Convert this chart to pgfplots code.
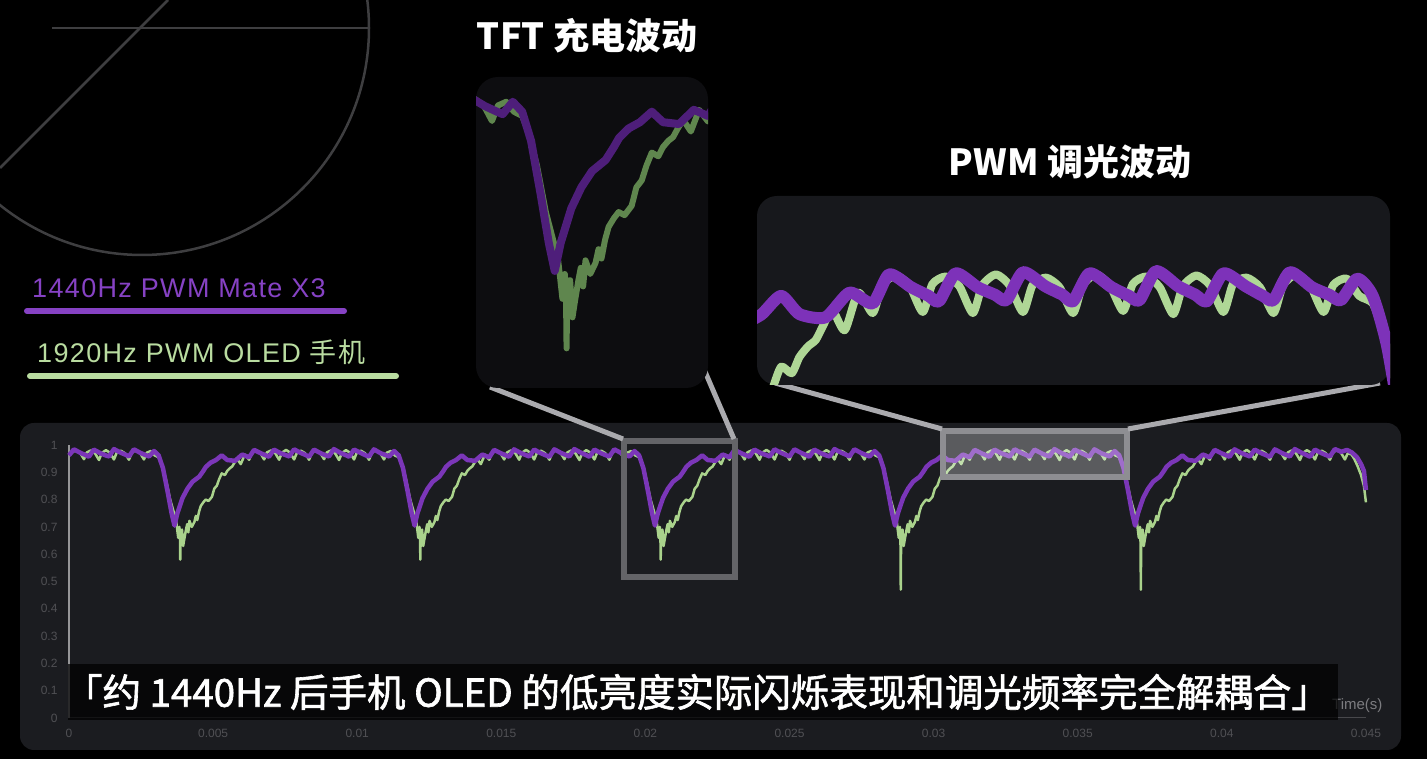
\documentclass[border=0pt]{standalone}
\usepackage{pgfplots}
\usepackage{pgfplotstable}
\pgfplotsset{compat=1.18}
\usepackage{fontspec}
\setmainfont{Liberation Sans}
\newfontfamily\cjk{Noto Sans CJK SC}
\newfontfamily\cjkm{Noto Sans CJK SC}[FakeBold=1.6]
\newfontfamily\legf{Liberation Sans}[LetterSpace=5]
\newfontfamily\legcjk{Noto Sans CJK SC}[LetterSpace=5]

\definecolor{panel}{RGB}{27,28,32}
\definecolor{purp}{RGB}{123,54,184}
\definecolor{grn}{RGB}{170,211,140}
\definecolor{tftpurp}{RGB}{78,30,122}
\definecolor{tftgrn}{RGB}{95,134,78}
\definecolor{tftbg}{RGB}{13,13,16}
\definecolor{pwmbg}{RGB}{23,24,28}
\definecolor{pwmpurp}{RGB}{125,50,185}
\definecolor{pwmgrn}{RGB}{175,215,150}
\definecolor{legP}{RGB}{134,66,196}
\definecolor{legG}{RGB}{185,220,160}
\definecolor{deco}{RGB}{62,62,64}
\definecolor{tickc}{RGB}{80,80,84}
\definecolor{axy}{RGB}{150,150,152}
\definecolor{axx}{RGB}{72,72,76}
\definecolor{conn}{RGB}{170,170,174}

\pgfplotstableread[row sep=\\]{
x y\\
0 0.962\\ 17 0.984\\ 40 0.971\\ 58 0.963\\ 69 0.957\\ 86 0.983\\ 109 0.970\\ 127 0.962\\
139 0.958\\ 156 0.985\\ 179 0.972\\ 197 0.964\\ 208 0.958\\ 225 0.984\\ 248 0.971\\ 266 0.963\\
278 0.958\\ 295 0.978\\ 311 0.962\\ 326 0.915\\ 342 0.830\\ 356 0.750\\ 366 0.705\\ 376 0.750\\
394 0.806\\ 411 0.840\\ 429 0.866\\ 452 0.884\\ 466 0.905\\ 475 0.920\\ 491 0.935\\ 510 0.945\\
530 0.962\\ 549 0.945\\ 576 0.942\\ 601 0.965\\ 625 0.955\\ 642 0.982\\ 665 0.970\\ 683 0.962\\
694 0.957\\ 711 0.983\\ 734 0.970\\ 752 0.963\\ 764 0.958\\ 781 0.984\\ 804 0.971\\ 822 0.963\\
833 0.957\\ 850 0.983\\ 873 0.970\\ 891 0.962\\ 902 0.958\\ 919 0.985\\ 942 0.971\\ 960 0.963\\
972 0.957\\ 989 0.983\\ 1012 0.971\\ 1030 0.962\\ 1041 0.958\\ 1058 0.984\\ 1081 0.970\\ 1099 0.963\\
1111 0.958\\ 1128 0.978\\ 1144 0.962\\ 1159 0.915\\ 1175 0.830\\ 1189 0.750\\ 1199 0.705\\ 1209 0.750\\
1227 0.806\\ 1244 0.840\\ 1262 0.866\\ 1285 0.884\\ 1299 0.905\\ 1308 0.920\\ 1324 0.935\\ 1343 0.945\\
1363 0.962\\ 1382 0.945\\ 1409 0.942\\ 1434 0.965\\ 1458 0.955\\ 1475 0.982\\ 1498 0.970\\ 1516 0.962\\
1527 0.957\\ 1544 0.984\\ 1567 0.971\\ 1585 0.963\\ 1597 0.958\\ 1614 0.983\\ 1637 0.970\\ 1655 0.962\\
1667 0.957\\ 1684 0.984\\ 1707 0.971\\ 1725 0.963\\ 1736 0.958\\ 1753 0.985\\ 1776 0.972\\ 1794 0.963\\
1806 0.957\\ 1823 0.983\\ 1846 0.970\\ 1864 0.962\\ 1875 0.958\\ 1892 0.984\\ 1915 0.971\\ 1933 0.963\\
1945 0.958\\ 1962 0.978\\ 1978 0.962\\ 1993 0.915\\ 2009 0.830\\ 2023 0.750\\ 2033 0.705\\ 2043 0.750\\
2061 0.806\\ 2078 0.840\\ 2096 0.866\\ 2119 0.884\\ 2133 0.905\\ 2142 0.920\\ 2158 0.935\\ 2177 0.945\\
2197 0.962\\ 2216 0.945\\ 2243 0.942\\ 2268 0.965\\ 2292 0.955\\ 2309 0.982\\ 2332 0.970\\ 2350 0.962\\
2361 0.957\\ 2378 0.983\\ 2401 0.970\\ 2419 0.963\\ 2431 0.958\\ 2448 0.984\\ 2471 0.971\\ 2489 0.963\\
2500 0.958\\ 2517 0.984\\ 2540 0.971\\ 2558 0.963\\ 2569 0.957\\ 2586 0.983\\ 2609 0.970\\ 2627 0.962\\
2639 0.958\\ 2656 0.985\\ 2679 0.972\\ 2697 0.964\\ 2708 0.958\\ 2725 0.984\\ 2748 0.971\\ 2766 0.963\\
2778 0.958\\ 2795 0.978\\ 2811 0.962\\ 2826 0.915\\ 2842 0.830\\ 2856 0.750\\ 2866 0.705\\ 2876 0.750\\
2894 0.806\\ 2911 0.840\\ 2929 0.866\\ 2952 0.884\\ 2966 0.905\\ 2975 0.920\\ 2991 0.935\\ 3010 0.945\\
3030 0.962\\ 3049 0.945\\ 3076 0.942\\ 3101 0.965\\ 3125 0.955\\ 3142 0.982\\ 3165 0.970\\ 3183 0.962\\
3194 0.957\\ 3211 0.983\\ 3234 0.970\\ 3252 0.963\\ 3264 0.958\\ 3281 0.984\\ 3304 0.971\\ 3322 0.963\\
3333 0.957\\ 3350 0.983\\ 3373 0.970\\ 3391 0.962\\ 3402 0.958\\ 3419 0.985\\ 3442 0.971\\ 3460 0.963\\
3472 0.957\\ 3489 0.983\\ 3512 0.971\\ 3530 0.962\\ 3541 0.958\\ 3558 0.984\\ 3581 0.970\\ 3599 0.963\\
3611 0.958\\ 3628 0.978\\ 3644 0.962\\ 3659 0.915\\ 3675 0.830\\ 3689 0.750\\ 3699 0.705\\ 3709 0.750\\
3727 0.806\\ 3744 0.840\\ 3762 0.866\\ 3785 0.884\\ 3799 0.905\\ 3808 0.920\\ 3824 0.935\\ 3843 0.945\\
3863 0.962\\ 3882 0.945\\ 3909 0.942\\ 3934 0.965\\ 3958 0.955\\ 3975 0.982\\ 3998 0.970\\ 4016 0.962\\
4027 0.957\\ 4044 0.984\\ 4067 0.971\\ 4085 0.963\\ 4097 0.958\\ 4114 0.983\\ 4137 0.970\\ 4155 0.962\\
4167 0.957\\ 4184 0.984\\ 4207 0.971\\ 4225 0.963\\ 4236 0.958\\ 4253 0.985\\ 4276 0.972\\ 4294 0.963\\
4306 0.957\\ 4323 0.983\\ 4346 0.970\\ 4364 0.962\\ 4375 0.958\\ 4392 0.985\\ 4415 0.975\\ 4434 0.982\\
4452 0.972\\ 4469 0.955\\ 4483 0.930\\ 4493 0.905\\ 4500 0.835\\
}\purpdata

\pgfplotstableread[row sep=\\]{
x y\\
0 0.965\\ 10 0.972\\ 24 0.982\\ 38 0.972\\ 52 0.948\\ 62 0.973\\ 76 0.980\\ 90 0.970\\
104 0.945\\ 114 0.971\\ 128 0.981\\ 142 0.972\\ 156 0.947\\ 166 0.973\\ 180 0.979\\ 194 0.970\\
208 0.946\\ 218 0.972\\ 232 0.982\\ 246 0.972\\ 260 0.947\\ 270 0.972\\ 284 0.978\\
297 0.962\\ 311 0.955\\ 321 0.930\\ 336 0.875\\ 351 0.800\\
366 0.745\\ 372 0.720\\ 375 0.695\\ 379 0.660\\ 383 0.700\\ 385 0.670\\ 386 0.580\\ 387 0.660\\ 389 0.685\\ 392 0.690\\ 396 0.630\\ 400 0.655\\
406 0.690\\ 410 0.710\\ 414 0.680\\ 418 0.722\\ 426 0.700\\ 435 0.718\\ 440 0.740\\ 445 0.725\\ 451 0.755\\ 457 0.776\\
466 0.790\\ 474 0.800\\ 484 0.795\\ 496 0.810\\ 504 0.840\\ 513 0.851\\ 521 0.875\\ 530 0.896\\ 541 0.890\\ 549 0.905\\
558 0.915\\ 566 0.921\\ 574 0.935\\ 583 0.949\\ 596 0.930\\ 610 0.965\\
625 0.946\\ 635 0.972\\ 649 0.981\\ 663 0.972\\ 677 0.947\\ 687 0.973\\ 701 0.980\\ 715 0.971\\
729 0.946\\ 739 0.972\\ 753 0.982\\ 767 0.972\\ 781 0.947\\ 791 0.972\\ 805 0.979\\ 819 0.970\\
833 0.946\\ 843 0.972\\ 857 0.982\\ 871 0.972\\ 885 0.948\\ 895 0.973\\ 909 0.980\\ 923 0.970\\
937 0.945\\ 947 0.971\\ 961 0.981\\ 975 0.972\\ 989 0.947\\ 999 0.973\\ 1013 0.979\\ 1027 0.970\\
1041 0.946\\ 1051 0.972\\ 1065 0.982\\ 1079 0.972\\ 1093 0.947\\ 1103 0.972\\ 1117 0.978\\
1130 0.962\\ 1144 0.955\\ 1154 0.930\\ 1169 0.875\\ 1184 0.800\\
1199 0.745\\ 1205 0.720\\ 1208 0.695\\ 1212 0.660\\ 1216 0.700\\ 1218 0.670\\ 1219 0.580\\ 1220 0.660\\ 1222 0.685\\ 1225 0.690\\ 1229 0.630\\ 1233 0.655\\
1239 0.690\\ 1243 0.710\\ 1247 0.680\\ 1251 0.722\\ 1259 0.700\\ 1268 0.718\\ 1273 0.740\\ 1278 0.725\\ 1284 0.755\\ 1290 0.776\\
1299 0.790\\ 1307 0.800\\ 1317 0.795\\ 1329 0.810\\ 1337 0.840\\ 1346 0.851\\ 1354 0.875\\ 1363 0.896\\ 1374 0.890\\ 1382 0.905\\
1391 0.915\\ 1399 0.921\\ 1407 0.935\\ 1416 0.949\\ 1429 0.930\\ 1443 0.965\\
1458 0.946\\ 1468 0.972\\ 1482 0.981\\ 1496 0.972\\ 1510 0.947\\ 1520 0.973\\ 1534 0.980\\ 1548 0.971\\
1562 0.946\\ 1572 0.972\\ 1586 0.982\\ 1600 0.972\\ 1614 0.947\\ 1624 0.972\\ 1638 0.979\\ 1652 0.970\\
1667 0.946\\ 1677 0.972\\ 1691 0.982\\ 1705 0.972\\ 1719 0.948\\ 1729 0.973\\ 1743 0.980\\ 1757 0.970\\
1771 0.945\\ 1781 0.971\\ 1795 0.981\\ 1809 0.972\\ 1823 0.947\\ 1833 0.973\\ 1847 0.979\\ 1861 0.970\\
1875 0.946\\ 1885 0.972\\ 1899 0.982\\ 1913 0.972\\ 1927 0.947\\ 1937 0.972\\ 1951 0.978\\
1964 0.962\\ 1978 0.955\\ 1988 0.930\\ 2003 0.875\\ 2018 0.800\\
2033 0.745\\ 2039 0.720\\ 2042 0.695\\ 2046 0.660\\ 2050 0.700\\ 2052 0.670\\ 2053 0.580\\ 2054 0.660\\ 2056 0.685\\ 2059 0.690\\ 2063 0.630\\ 2067 0.655\\
2073 0.690\\ 2077 0.710\\ 2081 0.680\\ 2085 0.722\\ 2093 0.700\\ 2102 0.718\\ 2107 0.740\\ 2112 0.725\\ 2118 0.755\\ 2124 0.776\\
2133 0.790\\ 2141 0.800\\ 2151 0.795\\ 2163 0.810\\ 2171 0.840\\ 2180 0.851\\ 2188 0.875\\ 2197 0.896\\ 2208 0.890\\ 2216 0.905\\
2225 0.915\\ 2233 0.921\\ 2241 0.935\\ 2250 0.949\\ 2263 0.930\\ 2277 0.965\\
2292 0.946\\ 2302 0.972\\ 2316 0.981\\ 2330 0.972\\ 2344 0.947\\ 2354 0.973\\ 2368 0.980\\ 2382 0.971\\
2396 0.946\\ 2406 0.972\\ 2420 0.982\\ 2434 0.972\\ 2448 0.947\\ 2458 0.972\\ 2472 0.979\\ 2486 0.970\\
2500 0.946\\ 2510 0.972\\ 2524 0.982\\ 2538 0.972\\ 2552 0.948\\ 2562 0.973\\ 2576 0.980\\ 2590 0.970\\
2604 0.945\\ 2614 0.971\\ 2628 0.981\\ 2642 0.972\\ 2656 0.947\\ 2666 0.973\\ 2680 0.979\\ 2694 0.970\\
2708 0.946\\ 2718 0.972\\ 2732 0.982\\ 2746 0.972\\ 2760 0.947\\ 2770 0.972\\ 2784 0.978\\
2797 0.962\\ 2811 0.955\\ 2821 0.930\\ 2836 0.875\\ 2851 0.800\\
2866 0.745\\ 2872 0.720\\ 2875 0.695\\ 2879 0.660\\ 2883 0.700\\ 2885 0.640\\ 2886 0.470\\ 2887 0.640\\ 2889 0.685\\ 2892 0.690\\ 2896 0.630\\ 2900 0.655\\
2906 0.690\\ 2910 0.710\\ 2914 0.680\\ 2918 0.722\\ 2926 0.700\\ 2935 0.718\\ 2940 0.740\\ 2945 0.725\\ 2951 0.755\\ 2957 0.776\\
2966 0.790\\ 2974 0.800\\ 2984 0.795\\ 2996 0.810\\ 3004 0.840\\ 3013 0.851\\ 3021 0.875\\ 3030 0.896\\ 3041 0.890\\ 3049 0.905\\
3058 0.915\\ 3066 0.921\\ 3074 0.935\\ 3083 0.949\\ 3096 0.930\\ 3110 0.965\\
3125 0.946\\ 3135 0.972\\ 3149 0.981\\ 3163 0.972\\ 3177 0.947\\ 3187 0.973\\ 3201 0.980\\ 3215 0.971\\
3229 0.946\\ 3239 0.972\\ 3253 0.982\\ 3267 0.972\\ 3281 0.947\\ 3291 0.972\\ 3305 0.979\\ 3319 0.970\\
3333 0.946\\ 3343 0.972\\ 3357 0.982\\ 3371 0.972\\ 3385 0.948\\ 3395 0.973\\ 3409 0.980\\ 3423 0.970\\
3437 0.945\\ 3447 0.971\\ 3461 0.981\\ 3475 0.972\\ 3489 0.947\\ 3499 0.973\\ 3513 0.979\\ 3527 0.970\\
3541 0.946\\ 3551 0.972\\ 3565 0.982\\ 3579 0.972\\ 3593 0.947\\ 3603 0.972\\ 3617 0.978\\
3630 0.962\\ 3644 0.955\\ 3654 0.930\\ 3669 0.875\\ 3684 0.800\\
3699 0.745\\ 3705 0.720\\ 3708 0.695\\ 3712 0.660\\ 3716 0.700\\ 3718 0.640\\ 3719 0.470\\ 3720 0.640\\ 3722 0.685\\ 3725 0.690\\ 3729 0.630\\ 3733 0.655\\
3739 0.690\\ 3743 0.710\\ 3747 0.680\\ 3751 0.722\\ 3759 0.700\\ 3768 0.718\\ 3773 0.740\\ 3778 0.725\\ 3784 0.755\\ 3790 0.776\\
3799 0.790\\ 3807 0.800\\ 3817 0.795\\ 3829 0.810\\ 3837 0.840\\ 3846 0.851\\ 3854 0.875\\ 3863 0.896\\ 3874 0.890\\ 3882 0.905\\
3891 0.915\\ 3899 0.921\\ 3907 0.935\\ 3916 0.949\\ 3929 0.930\\ 3943 0.965\\
3958 0.946\\ 3968 0.972\\ 3982 0.981\\ 3996 0.972\\ 4010 0.947\\ 4020 0.973\\ 4034 0.980\\ 4048 0.971\\
4062 0.946\\ 4072 0.972\\ 4086 0.982\\ 4100 0.972\\ 4114 0.947\\ 4124 0.972\\ 4138 0.979\\ 4152 0.970\\
4167 0.946\\ 4177 0.972\\ 4191 0.982\\ 4205 0.972\\ 4219 0.948\\ 4229 0.973\\ 4243 0.980\\ 4257 0.970\\
4271 0.945\\ 4281 0.971\\ 4295 0.981\\ 4309 0.972\\ 4323 0.947\\ 4333 0.973\\ 4347 0.979\\ 4361 0.970\\
4375 0.946\\ 4385 0.972\\ 4399 0.982\\ 4413 0.972\\ 4427 0.947\\ 4437 0.970\\ 4450 0.965\\ 4459 0.950\\
4470 0.925\\ 4483 0.890\\ 4493 0.850\\ 4500 0.790\\
}\grndata

\newcommand\ticf{\fontsize{12}{14}\selectfont}

\begin{document}
\begin{tikzpicture}
\path[use as bounding box] (0pt,0pt) rectangle (1427pt,759pt);
\clip (0pt,0pt) rectangle (1427pt,759pt);
\fill[black] (0pt,0pt) rectangle (1427pt,759pt);

% decoration
\draw[deco, line width=2.5pt] (142pt,731pt) circle (227pt);
\draw[deco, line width=2.5pt] (52pt,731pt) -- (369pt,731pt);
\draw[deco, line width=2.5pt] (0pt,591pt) -- (168pt,759pt);

% legend
\node[anchor=base west, inner sep=0pt, text=legP, font=\legf\fontsize{27}{30}\selectfont] at (32pt,461pt) {1440Hz PWM Mate X3};
\draw[legP, line width=6pt, line cap=round] (27pt,448pt) -- (344pt,448pt);
\node[anchor=base west, inner sep=0pt, text=legG, font=\legf\fontsize{27}{30}\selectfont] at (37pt,396pt) {1920Hz PWM OLED {\legcjk 手机}};
\draw[legG, line width=6pt, line cap=round] (30pt,383pt) -- (396pt,383pt);

% panel
\fill[panel, rounded corners=14pt] (20pt,9pt) rectangle (1401pt,336pt);

\begin{axis}[
  at={(69pt,41pt)}, anchor=south west,
  scale only axis, width=1297pt, height=273pt,
  xmin=0, xmax=4500, ymin=0, ymax=1,
  axis x line*=bottom, axis y line*=left,
  x axis line style={draw=axx, line width=1pt, -},
  y axis line style={draw=axy, line width=1.5pt, -},
  xtick={0,500,1000,1500,2000,2500,3000,3500,4000,4500},
  xticklabels={0,0.005,0.01,0.015,0.02,0.025,0.03,0.035,0.04,0.045},
  ytick={0,0.1,0.2,0.3,0.4,0.5,0.6,0.7,0.8,0.9,1},
  yticklabels={0,0.1,0.2,0.3,0.4,0.5,0.6,0.7,0.8,0.9,1},
  major tick length=0pt,
  tick label style={font=\ticf, text=tickc},
  xticklabel style={yshift=-8pt},
  yticklabel style={xshift=-8pt},
  clip=false,
]
\addplot[grn, line width=2.5pt, line join=round] table {\grndata};
\addplot[purp, line width=4.5pt, line join=round] table {\purpdata};
\end{axis}

% zoom boxes on main chart
\draw[draw={rgb,255:red,100;green,100;blue,104}, line width=6pt] (624pt,318pt) rectangle (735pt,182pt);
\fill[white, fill opacity=0.28] (943pt,328pt) rectangle (1127pt,282pt);
\draw[draw={rgb,255:red,142;green,142;blue,146}, line width=6pt] (943pt,328pt) rectangle (1127pt,282pt);

% connectors
\draw[conn, line width=5pt] (490pt,372pt) -- (623pt,320pt);
\draw[conn, line width=5pt] (700pt,399pt) -- (734pt,320pt);
\draw[conn, line width=5pt] (775pt,376pt) -- (942pt,330pt);
\draw[conn, line width=5pt] (1380pt,376pt) -- (1128pt,330pt);

% TFT inset
\fill[tftbg, rounded corners=22pt] (476pt,371pt) rectangle (708pt,682pt);
\begin{axis}[
  at={(476pt,371pt)}, anchor=south west,
  scale only axis, width=232pt, height=311pt,
  xmin=1900, xmax=2292, ymin=0.516, ymax=1.018,
  hide axis,
]
\addplot[tftgrn, line width=6pt, line join=round] table {\grndata};
\addplot[tftpurp, line width=8pt, line join=round] table {\purpdata};
\end{axis}

% PWM inset
\fill[pwmbg, rounded corners=20pt] (757pt,374pt) rectangle (1390pt,563pt);
\begin{axis}[
  at={(757pt,374pt)}, anchor=south west,
  scale only axis, width=633pt, height=189pt,
  xmin=3005, xmax=3662, ymin=0.879, ymax=1.055,
  hide axis,
]
\addplot[pwmgrn, line width=8pt, line join=round, smooth, tension=0.4] table {\grndata};
\addplot[pwmpurp, line width=12pt, line join=round, smooth, tension=0.4] table {\purpdata};
\end{axis}

% titles
\node[text=white, font=\cjk\bfseries\fontsize{36}{40}\selectfont, inner sep=0pt] at (587pt,723pt) {TFT 充电波动};
\node[text=white, font=\cjk\bfseries\fontsize{36}{40}\selectfont, inner sep=0pt] at (1070pt,597pt) {PWM 调光波动};

% time label
\node[anchor=west, text={rgb,255:red,124;green,124;blue,128}, font=\fontsize{15}{17}\selectfont, inner sep=0pt] at (1332pt,53pt) {Time(s)};

% subtitle
\fill[black, fill opacity=0.72] (68pt,39pt) rectangle (1338pt,95pt);
\node[text=white, font=\cjkm\fontsize{38.5}{42}\selectfont, inner sep=0pt] at (697pt,67pt) {\makebox[0.5em][r]{「}约 1440Hz 后手机 OLED 的低亮度实际闪烁表现和调光频率完全解耦合\makebox[0.5em][l]{」}};
\end{tikzpicture}
\end{document}
